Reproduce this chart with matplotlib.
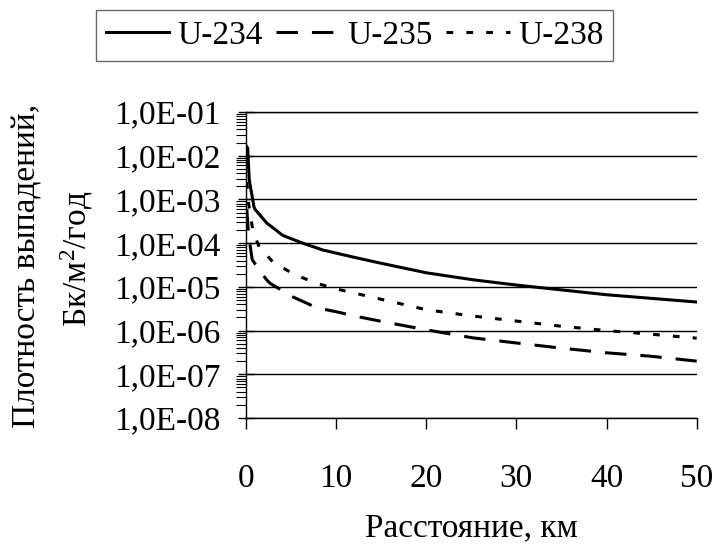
import math
import matplotlib
matplotlib.use("Agg")
import matplotlib.pyplot as plt
from matplotlib.ticker import FixedLocator, FuncFormatter, LogLocator, NullFormatter

plt.rcParams['font.family'] = ['Liberation Serif', 'DejaVu Serif']
plt.rcParams['mathtext.fontset'] = 'custom'
plt.rcParams['mathtext.rm'] = 'Liberation Serif'
plt.rcParams['mathtext.it'] = 'Liberation Serif:italic'
plt.rcParams['mathtext.bf'] = 'Liberation Serif:bold'

# distance, km
x234 = [0.1, 0.2, 0.37, 0.9, 1.0, 2.3, 4.1, 6.3, 8.5, 11.9, 14.9, 20, 25.2, 30, 40, 50]
u234 = [1.6e-2, 1.5e-2, 2.8e-3, 6.7e-4, 6.0e-4, 2.9e-4, 1.5e-4, 1.0e-4, 7.0e-5, 4.8e-5,
        3.5e-5, 2.1e-5, 1.45e-5, 1.1e-5, 6.6e-6, 4.5e-6]

x235 = [0.1, 0.3, 0.7, 1.5, 2.3, 2.7, 5.2, 7.9, 10, 12.3, 15.2, 20, 25.2, 30, 34.8, 40, 44.8, 50]
u235 = [6.0e-4, 1.5e-4, 4.2e-5, 2.4e-5, 1.45e-5, 1.2e-5, 5.9e-6, 3.3e-6, 2.7e-6, 2.1e-6,
        1.6e-6, 1.04e-6, 6.8e-7, 5.2e-7, 4.0e-7, 3.1e-7, 2.6e-7, 2.0e-7]

x238 = [0.1, 0.3, 0.8, 1.5, 3.0, 5.4, 7.9, 10, 15, 20, 24.8, 30, 34.8, 40, 44.8, 50]
u238 = [2.5e-3, 8.0e-4, 1.8e-4, 8.0e-5, 3.7e-5, 1.9e-5, 1.2e-5, 9.0e-6, 5.2e-6, 3.0e-6,
        2.2e-6, 1.65e-6, 1.27e-6, 1.0e-6, 8.3e-7, 6.7e-7]

series_names = ['U-234', 'U-235', 'U-238']
x_ticks = [0, 10, 20, 30, 40, 50]
y_ticks = [1e-8, 1e-7, 1e-6, 1e-5, 1e-4, 1e-3, 1e-2, 1e-1]

FS = 24

fig = plt.figure(figsize=(7.19, 5.51), dpi=100)
ax = fig.add_axes([0.342, 0.2414, 0.969 - 0.342, 0.7967 - 0.2414])

lw = 2.2
l1, = ax.plot(x234, u234, color='black', lw=lw, linestyle='-', label=series_names[0])
l2, = ax.plot(x235, u235, color='black', lw=lw, linestyle=(0, (7.0, 4.6)), label=series_names[1])
l3, = ax.plot(x238, u238, color='black', lw=lw, linestyle=(0, (2.2, 4.3)), label=series_names[2])

ax.set_yscale('log')
ax.set_ylim(1e-8, 1e-1)
ax.set_xlim(0, 50)

ax.xaxis.set_major_locator(FixedLocator(x_ticks))
ax.yaxis.set_major_locator(FixedLocator(y_ticks))
ax.yaxis.set_minor_locator(LogLocator(base=10, subs=range(2, 10), numticks=20))
ax.yaxis.set_minor_formatter(NullFormatter())


def fmt(v, pos):
    e = int(round(math.log10(v)))
    return "1,0E-%02d" % (-e) if e < 0 else "1,0E+%02d" % e


ax.yaxis.set_major_formatter(FuncFormatter(fmt))

ax.grid(True, which='major', axis='y', color='black', lw=1.0)
for s in ['top', 'right']:
    ax.spines[s].set_visible(False)
for s in ['left', 'bottom']:
    ax.spines[s].set_linewidth(1.0)
ax.axhline(1e-1, color='black', lw=1.0, clip_on=False)

ax.tick_params(axis='y', which='major', direction='inout', length=12, width=1.0, labelsize=FS, pad=12)
ax.tick_params(axis='y', which='minor', direction='out', length=7, width=0.8)
ax.tick_params(axis='x', which='major', direction='out', length=8, width=1.0, labelsize=FS, pad=25)

fig.text(0.656, 1 - 528 / 551, 'Расстояние, км', fontsize=FS, ha='center', va='center')
fig.text(0.0487, 0.518, 'Плотность выпадений,', rotation=90, fontsize=FS,
         ha='center', va='baseline', rotation_mode='anchor')
fig.text(0.121, 0.530, 'Бк/м$^2$/год', rotation=90, fontsize=FS,
         ha='center', va='baseline', rotation_mode='anchor')

leg = fig.legend(handles=[l1, l2, l3], loc='center', bbox_to_anchor=(0.493, 0.936), ncol=3,
                 fontsize=FS, frameon=True, fancybox=False, edgecolor='#444444',
                 handlelength=1.9, handletextpad=0.25, columnspacing=0.4, borderpad=0.3,
                 borderaxespad=0)
leg.get_frame().set_linewidth(1.0)

fig.savefig('out.png', dpi=100)
